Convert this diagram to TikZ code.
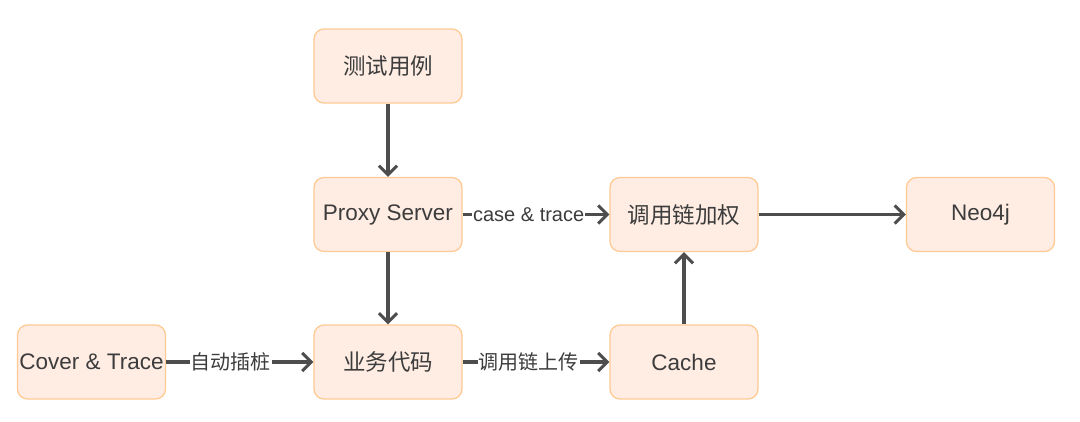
\documentclass[tikz,border=0pt]{standalone}
\usepackage{fontspec}
\setmainfont{Liberation Sans}
\newfontfamily\cjk{Noto Sans CJK SC}
\usetikzlibrary{arrows.meta}
\definecolor{boxfill}{HTML}{FFEDE4}
\definecolor{boxline}{HTML}{FFCA93}
\definecolor{txt}{HTML}{3C3C3C}
\definecolor{edge}{HTML}{4D4D4D}
\begin{document}
\begin{tikzpicture}[x=1pt,y=-1pt,
  box/.style={draw=boxline,fill=boxfill,line width=1.3pt,rounded corners=10pt,
    minimum width=148pt,minimum height=74pt,inner sep=0pt,text=txt,
    font=\fontsize{22.5}{25}\selectfont},
  conn/.style={draw=edge,line width=3.4pt,-{Straight Barb[length=9pt,width=18pt,line width=3pt]}},
  lbl/.style={fill=white,text=txt,inner sep=1pt,font=\fontsize{20}{23}\selectfont}]
\useasboundingbox (0,0) rectangle (1080,421);
\node[box] (test) at (388,66) {\cjk 测试用例};
\node[box] (proxy) at (388,214.5) {Proxy Server};
\node[box] (biz) at (388,362) {\cjk 业务代码};
\node[box] (cover) at (91.5,362) {Cover \& Trace};
\node[box] (weight) at (684,214.5) {\cjk 调用链加权};
\node[box] (neo) at (980.5,214.5) {Neo4j};
\node[box] (cache) at (684,362) {Cache};
\draw[conn] (test) -- (proxy);
\draw[conn] (proxy) -- (biz);
\draw[conn] (proxy) -- node[lbl,pos=0.45] {case \& trace} (weight);
\draw[conn] (cover) -- node[lbl,pos=0.44] {\cjk 自动插桩} (biz);
\draw[conn] (biz) -- node[lbl,pos=0.45] {\cjk 调用链上传} (cache);
\draw[conn] (cache) -- (weight);
\draw[conn] (weight) -- (neo);
\end{tikzpicture}
\end{document}
